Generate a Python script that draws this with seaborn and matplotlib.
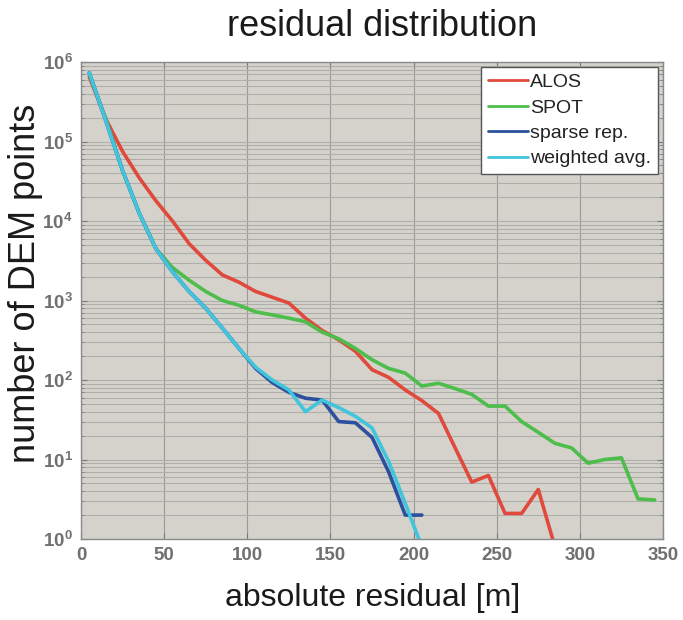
import numpy as np
import pandas as pd
import seaborn as sns
import matplotlib.pyplot as plt
from matplotlib.ticker import LogLocator

# residual bins (bin centres, m)
x_alos = [5, 15, 25, 35, 45, 55, 65, 75, 85, 95, 105, 115, 125, 135, 145, 155,
          165, 175, 185, 195, 205, 215, 225, 235, 245, 255, 265, 275, 285]
alos = [6.5e5, 1.9e5, 7.5e4, 3.5e4, 1.8e4, 1.0e4, 5.2e3, 3.2e3, 2.1e3, 1.7e3, 1.3e3,
        1.1e3, 930, 600, 420, 320, 230, 135, 108, 75, 55, 38, 14, 5.2, 6.3, 2.1, 2.1,
        4.2, 0.8]

x_spot = [5, 15, 25, 35, 45, 55, 65, 75, 85, 95, 105, 115, 125, 135, 145, 155, 165,
          175, 185, 195, 205, 215, 225, 235, 245, 255, 265, 275, 285, 295, 305, 315,
          325, 335, 345]
spot = [7e5, 1.9e5, 4.3e4, 1.26e4, 4.5e3, 2.6e3, 1.8e3, 1.3e3, 1.0e3, 870, 720, 660,
        600, 540, 400, 330, 250, 180, 140, 122, 84, 91, 78, 66, 47, 47, 30, 22, 16,
        14, 9, 10, 10.5, 3.2, 3.1]

x_fused = [5, 15, 25, 35, 45, 55, 65, 75, 85, 95, 105, 115, 125, 135, 145, 155, 165,
           175, 185, 195, 205]
sparse = [7.3e5, 1.8e5, 4.3e4, 1.26e4, 4.5e3, 2.3e3, 1.3e3, 800, 450, 250, 140, 93,
          70, 59, 56, 30, 29, 19, 7, 2.0, 2.0]
weighted = [7.3e5, 1.8e5, 4.3e4, 1.26e4, 4.5e3, 2.3e3, 1.3e3, 800, 450, 250, 145, 100,
            75, 40, 56, 45, 35, 25, 9.5, 2.8, 0.8]

df = pd.concat([
    pd.DataFrame({'residual': x_alos, 'count': alos, 'method': 'ALOS'}),
    pd.DataFrame({'residual': x_spot, 'count': spot, 'method': 'SPOT'}),
    pd.DataFrame({'residual': x_fused, 'count': sparse, 'method': 'sparse rep.'}),
    pd.DataFrame({'residual': x_fused, 'count': weighted, 'method': 'weighted avg.'}),
], ignore_index=True)

palette = {'ALOS': '#e04a3c', 'SPOT': '#4dbd4c',
           'sparse rep.': '#2c4f9e', 'weighted avg.': '#41c4dc'}

sns.set_style('ticks')
plt.rcParams['font.family'] = ['Liberation Sans', 'DejaVu Sans']

fig = plt.figure(figsize=(6.83, 6.2), dpi=100)
ax = fig.add_axes([0.1186, 0.1306, 0.8521, 0.7694])
ax.set_facecolor('#d5d2cc')

sns.lineplot(data=df, x='residual', y='count', hue='method', palette=palette,
             linewidth=2.6, ax=ax, sort=False, estimator=None)

ax.set_yscale('log')
ax.set_xlim(0, 350)
ax.set_ylim(1, 1e6)
ax.set_xticks(np.arange(0, 351, 50))
ax.yaxis.set_major_locator(LogLocator(base=10, numticks=10))
ax.yaxis.set_minor_locator(LogLocator(base=10, subs=np.arange(2, 10), numticks=20))

ax.grid(True, which='major', axis='x', color='#9c9a96', linewidth=0.8)
ax.grid(True, which='both', axis='y', color='#b0aea9', linewidth=0.8)
ax.set_axisbelow(True)

ax.tick_params(axis='both', which='both', direction='in', top=True, right=True,
               colors='#7a7a7a', labelcolor='#707070', labelsize=13.5)
ax.tick_params(axis='y', which='minor', length=2.5)
ax.tick_params(axis='both', which='major', length=4, pad=6)
for lab in ax.get_xticklabels() + ax.get_yticklabels():
    lab.set_fontweight('bold')
for sp in ax.spines.values():
    sp.set_color('#8a8a8a')
    sp.set_linewidth(1.0)

ax.set_xlabel('')
ax.set_ylabel('')
fig.text(0.545, 0.036, 'absolute residual [m]', fontsize=23, ha='center',
         va='center', color='#1a1a1a')
fig.text(0.038, 0.543, 'number of DEM points', fontsize=26, ha='center',
         va='center', rotation=90, color='#1a1a1a')
fig.text(0.56, 0.958, 'residual distribution', fontsize=26, ha='center',
         va='center', color='#1a1a1a')

leg = ax.legend(loc='upper right', fontsize=14, frameon=True, fancybox=False,
                borderaxespad=0.25, handlelength=2.1, handletextpad=0.1,
                labelspacing=0.4, borderpad=0.35)
leg.get_frame().set_edgecolor('#555555')
leg.get_frame().set_facecolor('white')
leg.get_frame().set_alpha(1)
for line in leg.get_lines():
    line.set_linewidth(2.0)
for t in leg.get_texts():
    t.set_color('#222222')

fig.savefig('out.png', dpi=100)
